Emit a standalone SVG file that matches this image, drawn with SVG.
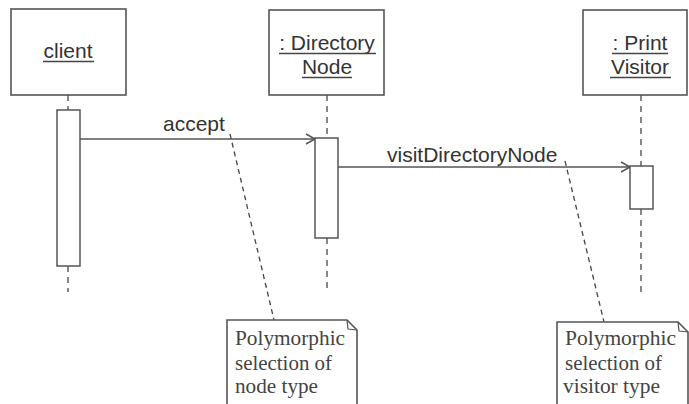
<svg xmlns="http://www.w3.org/2000/svg" width="689" height="404" viewBox="0 0 689 404">
<defs>
<marker id="open" markerWidth="12" markerHeight="12" refX="10" refY="6" orient="auto" markerUnits="userSpaceOnUse">
<path d="M1,1 L10,6 L1,11" fill="none" stroke="#555" stroke-width="1.5"/>
</marker>
<style>
.box{fill:#fff;stroke:#555;stroke-width:1.6}
.act{fill:#fff;stroke:#555;stroke-width:1.5}
.life{stroke:#555;stroke-width:1.4;stroke-dasharray:6 5;fill:none}
.link{stroke:#444;stroke-width:1.3;stroke-dasharray:5 4;fill:none}
.msg{stroke:#555;stroke-width:1.5;fill:none}
.lbl{font-family:"Liberation Sans",Arial,sans-serif;font-size:21px;fill:#333}
.note{font-family:"Liberation Serif","Times New Roman",serif;font-size:21px;fill:#444}
.ul{stroke:#444;stroke-width:1.3}
</style>
</defs>
<rect width="689" height="404" fill="#fff"/>
<g id="connectors">
<line class="life" x1="68" y1="95" x2="68" y2="110"/>
<line class="life" x1="68" y1="266" x2="68" y2="292"/>
<line class="life" x1="327" y1="95" x2="327" y2="138"/>
<line class="life" x1="327" y1="238" x2="327" y2="292"/>
<line class="life" x1="641" y1="95" x2="641" y2="166"/>
<line class="life" x1="641" y1="209" x2="641" y2="292"/>
<line class="msg" x1="80" y1="139" x2="315" y2="139" marker-end="url(#open)"/>
<text class="lbl" x="163" y="131">accept</text>
<line class="msg" x1="338" y1="167" x2="630" y2="167" marker-end="url(#open)"/>
<text class="lbl" x="387" y="162">visitDirectoryNode</text>
<line class="link" x1="230" y1="134" x2="274" y2="320"/>
<line class="link" x1="565" y1="161" x2="604" y2="322"/>
</g>
<g id="client">
<rect class="box" x="11" y="9" width="115" height="86"/>
<text class="lbl" x="68" y="58" text-anchor="middle">client</text>
<line class="ul" x1="43" y1="61.5" x2="94" y2="61.5"/>
<rect class="act" x="57" y="110" width="23" height="156"/>
</g>
<g id="directory-node">
<rect class="box" x="269" y="10" width="115" height="85"/>
<text class="lbl" x="327" y="50" text-anchor="middle">: Directory</text>
<line class="ul" x1="279" y1="53.5" x2="376" y2="53.5"/>
<text class="lbl" x="327" y="74" text-anchor="middle">Node</text>
<line class="ul" x1="302" y1="77.5" x2="352" y2="77.5"/>
<rect class="act" x="315" y="138" width="23" height="100"/>
</g>
<g id="print-visitor">
<rect class="box" x="583" y="10" width="104" height="85"/>
<text class="lbl" x="640" y="50" text-anchor="middle">: Print</text>
<line class="ul" x1="612" y1="53.5" x2="668" y2="53.5"/>
<text class="lbl" x="640" y="74" text-anchor="middle">Visitor</text>
<line class="ul" x1="610" y1="77.5" x2="671" y2="77.5"/>
<rect class="act" x="630" y="166" width="23" height="43"/>
</g>
<g id="note-node">
<path class="box" d="M227,406 L227,320 L347,320 L357,330 L357,406"/>
<path d="M347,320 L348,329 L357,330" fill="none" stroke="#555" stroke-width="1.2"/>
<text class="note" x="235" y="345" textLength="110" lengthAdjust="spacingAndGlyphs">Polymorphic</text>
<text class="note" x="235" y="370" textLength="97" lengthAdjust="spacingAndGlyphs">selection of</text>
<text class="note" x="235" y="393" textLength="83" lengthAdjust="spacingAndGlyphs">node type</text>
</g>
<g id="note-visitor">
<path class="box" d="M557,406 L557,322 L678,322 L688,332 L688,406"/>
<path d="M678,322 L679,331 L688,332" fill="none" stroke="#555" stroke-width="1.2"/>
<text class="note" x="565" y="345" textLength="111" lengthAdjust="spacingAndGlyphs">Polymorphic</text>
<text class="note" x="565" y="370" textLength="97" lengthAdjust="spacingAndGlyphs">selection of</text>
<text class="note" x="563" y="393" textLength="97" lengthAdjust="spacingAndGlyphs">visitor type</text>
</g>
</svg>
